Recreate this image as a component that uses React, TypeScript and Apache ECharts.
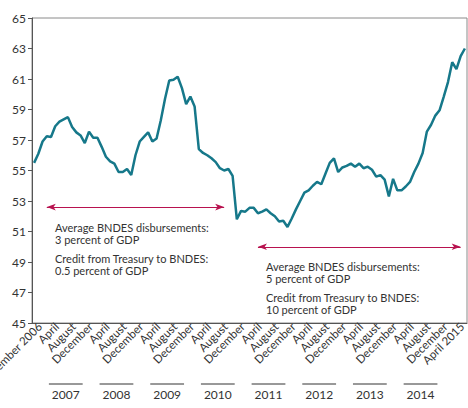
import React, { useEffect, useRef } from "react";
import * as echarts from "echarts";

// Monthly series, December 2006 through June 2015 (percent of GDP)
const values: number[] = [
  55.5, 56.1, 56.9, 57.25, 57.2, 57.9, 58.2, 58.35, 58.5, 57.85, 57.5, 57.3,
  56.8, 57.55, 57.15, 57.15, 56.55, 55.9, 55.6, 55.45, 54.9, 54.9, 55.1, 54.7,
  56.0, 56.9, 57.2, 57.5, 56.9, 57.1, 58.3, 59.7, 60.9, 60.95, 61.15, 60.4,
  59.35, 59.85, 59.2, 56.4, 56.15, 56.0, 55.8, 55.55, 55.15, 55.0, 55.1, 54.65,
  51.8, 52.35, 52.3, 52.55, 52.55, 52.2, 52.3, 52.45, 52.2, 52.0, 51.65, 51.7,
  51.3, 51.85, 52.45, 53.0, 53.55, 53.7, 54.0, 54.25, 54.1, 54.8, 55.5, 55.8,
  54.9, 55.2, 55.3, 55.45, 55.25, 55.45, 55.15, 55.25, 55.05, 54.6, 54.7, 54.4,
  53.3, 54.45, 53.7, 53.7, 53.95, 54.25, 54.9, 55.45, 56.15, 57.55, 58.0, 58.6,
  58.95, 59.85, 60.8, 62.1, 61.65, 62.5, 63.0,
];

// One category per month, starting December 2006
const startYear = 2006;
const startMonth = 12;
const categories: string[] = values.map((_, i) => {
  const m = startMonth - 1 + i;
  const y = startYear + Math.floor(m / 12);
  return `${y}-${String((m % 12) + 1).padStart(2, "0")}`;
});

// Labels shown every fourth month
const tickLabels: string[] = [
  "December 2006",
  "April", "August", "December",
  "April", "August", "December",
  "April", "August", "December",
  "April", "August", "December",
  "April", "August", "December",
  "April", "August", "December",
  "April", "August", "December",
  "April", "August", "December",
  "April 2015",
];

const yearLabels: string[] = ["2007", "2008", "2009", "2010", "2011", "2012", "2013", "2014"];

// Policy periods: [first month index, last month index, level on the y scale]
const periodArrows: [number, number, number][] = [
  [3, 45, 52.6],
  [53, 101, 50.0],
];

const periodNotes: string[][] = [
  ["Average BNDES disbursements:\n3 percent of GDP", "Credit from Treasury to BNDES:\n0.5 percent of GDP"],
  ["Average BNDES disbursements:\n5 percent of GDP", "Credit from Treasury to BNDES:\n10 percent of GDP"],
];

const FONT = "Lato";
const TEXT = "#333333";
const LINE = "#16788a";
const ARROW = "#b8124f";

export default function App() {
  const ref = useRef<HTMLDivElement>(null);

  useEffect(() => {
    if (!ref.current) return;
    const chart = echarts.init(ref.current, undefined, { renderer: "svg" });

    chart.setOption({
      animation: false,
      textStyle: { fontFamily: FONT },
      grid: {
        left: 32,
        top: 18,
        right: 1,
        bottom: 85,
        containLabel: false,
        outerBoundsMode: "none",
        show: true,
        borderColor: "#8a8a8a",
        borderWidth: 1,
      },
      xAxis: {
        type: "category",
        data: categories,
        boundaryGap: true,
        axisLine: { lineStyle: { color: "#555", width: 1 } },
        axisTick: {
          interval: (i: number) => i % 4 === 0,
          length: 4,
          lineStyle: { color: "#555" },
        },
        axisLabel: {
          interval: (i: number) => i % 4 === 0,
          formatter: (_v: string, i: number) => tickLabels[i / 4] ?? "",
          rotate: 45,
          margin: 7,
          padding: [0, -8, 0, 0],
          showMinLabel: true,
          hideOverlap: false,
          fontSize: 11.5,
          color: TEXT,
          fontFamily: FONT,
        },
        splitLine: { show: false },
      },
      yAxis: {
        type: "value",
        min: 45,
        max: 65,
        interval: 2,
        axisLine: { show: true, lineStyle: { color: "#555", width: 1 } },
        axisTick: { show: true, length: 4, lineStyle: { color: "#555" } },
        axisLabel: { fontSize: 12, color: TEXT, margin: 6, fontFamily: FONT },
        splitLine: { show: false },
      },
      series: [
        {
          type: "line",
          data: values,
          symbol: "none",
          lineStyle: { color: LINE, width: 2.5 },
          markLine: {
            silent: true,
            symbol: ["arrow", "arrow"],
            symbolSize: [5, 9],
            label: { show: false },
            lineStyle: { color: ARROW, width: 1, type: "solid" },
            data: periodArrows.map(([a, b, v]) => [
              { coord: [a, v] },
              { coord: [b, v] },
            ]),
          },
        },
      ],
    });

    // Year brackets under the month labels, spanning April to December
    const px = (i: number) => chart.convertToPixel({ xAxisIndex: 0 }, i) as number;
    const band = px(1) - px(0);
    const edge = (i: number) => px(i) - band / 2;
    const graphics: any[] = [];
    yearLabels.forEach((label, k) => {
      const x0 = edge(4 + 12 * k);
      const x1 = edge(12 + 12 * k);
      graphics.push({
        type: "line",
        shape: { x1: x0, y1: 384, x2: x1, y2: 384 },
        style: { stroke: "#333", lineWidth: 1 },
      });
      graphics.push({
        type: "text",
        x: (x0 + x1) / 2,
        y: 394,
        style: {
          text: label,
          fill: TEXT,
          font: `12px ${FONT}`,
          textAlign: "center",
          textVerticalAlign: "middle",
        },
      });
    });

    // Notes describing each period
    const noteAnchors = [
      { x: 55, y: [221, 252] },
      { x: 266, y: [260, 291] },
    ];
    periodNotes.forEach((notes, p) => {
      notes.forEach((t, j) => {
        graphics.push({
          type: "text",
          x: noteAnchors[p].x,
          y: noteAnchors[p].y[j],
          style: {
            text: t,
            fill: TEXT,
            font: `11px ${FONT}`,
            lineHeight: 12.5,
            textAlign: "left",
            textVerticalAlign: "top",
          },
        });
      });
    });

    chart.setOption({ graphic: graphics });

    return () => chart.dispose();
  }, []);

  return (
    <div
      ref={ref}
      style={{ position: "fixed", left: 0, top: 0, width: 468, height: 408, background: "#fff" }}
    />
  );
}
